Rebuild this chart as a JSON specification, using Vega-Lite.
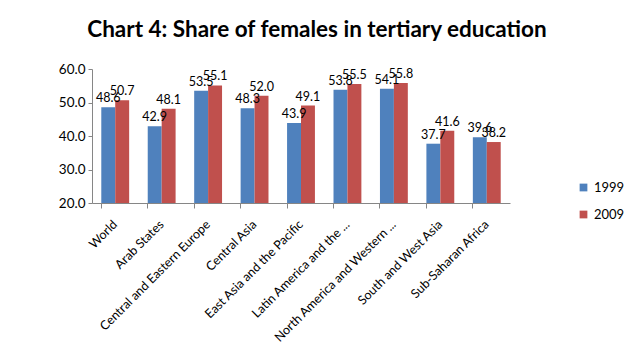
{
  "$schema": "https://vega.github.io/schema/vega-lite/v6.json",
  "autosize": "none",
  "width": 418,
  "height": 134,
  "padding": {"left": 92, "top": 69, "right": 126, "bottom": 155},
  "background": "white",
  "title": {
    "text": "Chart 4: Share of females in tertiary education",
    "font": "Lato",
    "fontSize": 22.5,
    "fontWeight": "bold",
    "color": "#000000",
    "anchor": "middle",
    "dx": 16,
    "offset": 21
  },
  "data": {
    "values": [
      {"region": "World", "year": "1999", "share": 48.6},
      {"region": "World", "year": "2009", "share": 50.7},
      {"region": "Arab States", "year": "1999", "share": 42.9},
      {"region": "Arab States", "year": "2009", "share": 48.1},
      {"region": "Central and Eastern Europe", "year": "1999", "share": 53.5},
      {"region": "Central and Eastern Europe", "year": "2009", "share": 55.1},
      {"region": "Central Asia", "year": "1999", "share": 48.3},
      {"region": "Central Asia", "year": "2009", "share": 52.0},
      {"region": "East Asia and the Pacific", "year": "1999", "share": 43.9},
      {"region": "East Asia and the Pacific", "year": "2009", "share": 49.1},
      {"region": "Latin America and the ...", "year": "1999", "share": 53.8},
      {"region": "Latin America and the ...", "year": "2009", "share": 55.5},
      {"region": "North America and Western ...", "year": "1999", "share": 54.1},
      {"region": "North America and Western ...", "year": "2009", "share": 55.8},
      {"region": "South and West Asia", "year": "1999", "share": 37.7},
      {"region": "South and West Asia", "year": "2009", "share": 41.6},
      {"region": "Sub-Saharan Africa", "year": "1999", "share": 39.6},
      {"region": "Sub-Saharan Africa", "year": "2009", "share": 38.2}
    ]
  },
  "encoding": {
    "x": {
      "field": "region",
      "type": "nominal",
      "sort": null,
      "scale": {"paddingInner": 0.4, "paddingOuter": 0.2},
      "axis": {
        "title": null,
        "labelAngle": -45,
        "labelAlign": "right",
        "labelBaseline": "middle",
        "labelFont": "Lato",
        "labelFontSize": 12.5,
        "labelColor": "#000000",
        "labelPadding": 14,
        "bandPosition": 0,
        "labelOffset": 0,
        "tickSize": 5,
        "tickColor": "#868686",
        "domainColor": "#868686",
        "labelLimit": 300
      }
    },
    "xOffset": {"field": "year", "type": "nominal"},
    "y": {
      "field": "share",
      "type": "quantitative",
      "scale": {"domain": [20, 60], "zero": false, "nice": false},
      "axis": {
        "title": null,
        "values": [20, 30, 40, 50, 60],
        "format": ".1f",
        "grid": false,
        "labelFont": "Lato",
        "labelFontSize": 13.5,
        "labelColor": "#000000",
        "tickSize": 4,
        "tickColor": "#868686",
        "domainColor": "#868686",
        "labelPadding": 3
      }
    }
  },
  "layer": [
    {
      "mark": {"type": "bar"},
      "encoding": {
        "y2": {"datum": 20},
        "color": {
          "field": "year",
          "type": "nominal",
          "scale": {"domain": ["1999", "2009"], "range": ["#4F81BD", "#C0504D"]},
          "legend": {
            "title": null,
            "orient": "none",
            "legendX": 485,
            "legendY": 112,
            "symbolType": "square",
            "symbolSize": 60,
            "labelFont": "Lato",
            "labelFontSize": 13,
            "labelColor": "#000000",
            "rowPadding": 13
          }
        }
      }
    },
    {
      "mark": {"type": "text", "dy": -9, "font": "Lato", "fontSize": 12.5, "color": "#000000"},
      "encoding": {
        "text": {"field": "share", "type": "quantitative", "format": ".1f"}
      }
    }
  ],
  "config": {"view": {"stroke": null}}
}
